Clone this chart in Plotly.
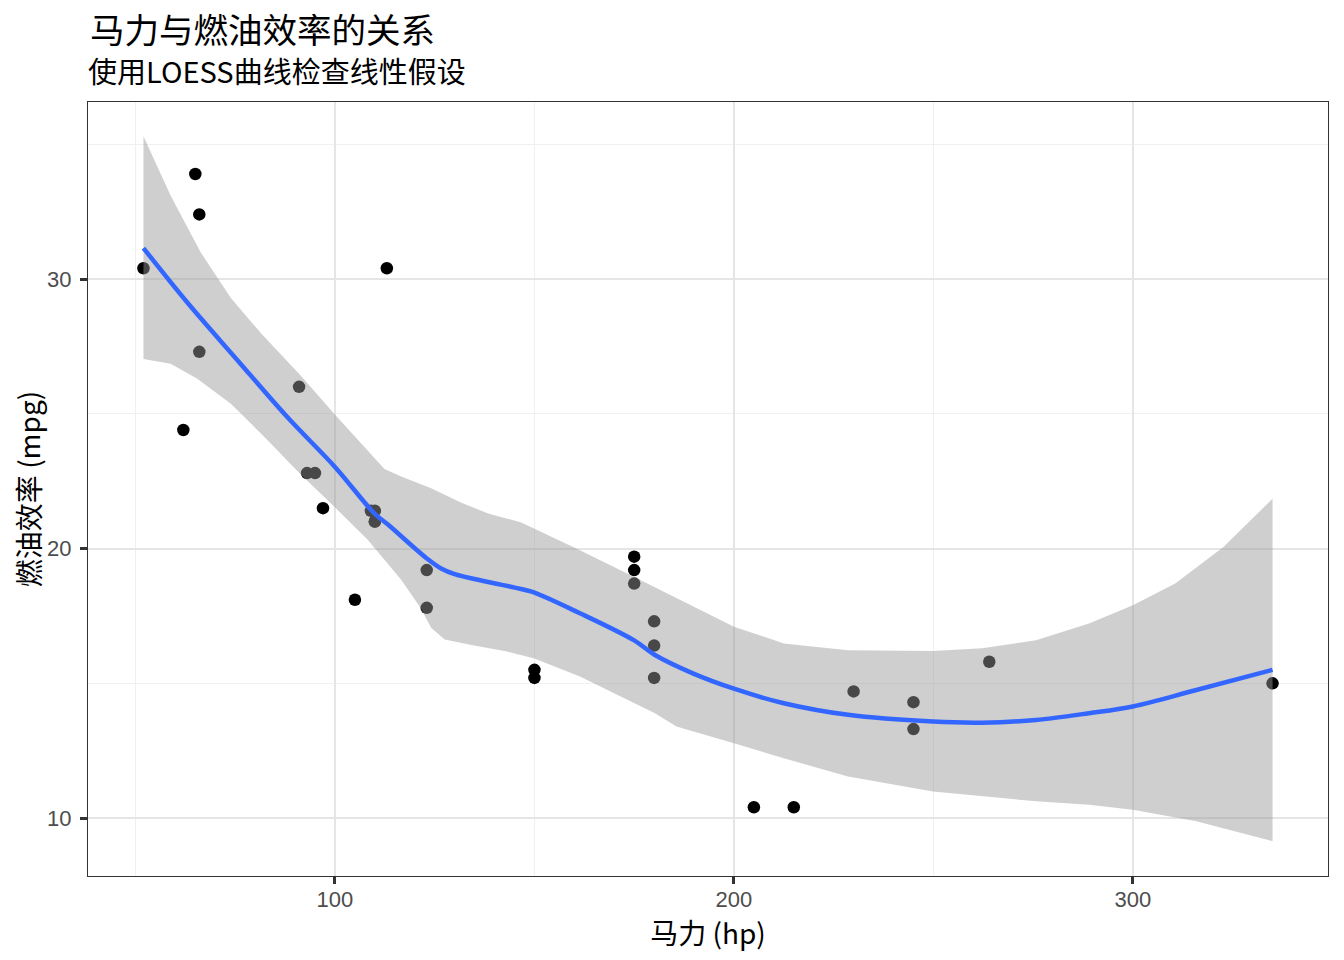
import plotly.graph_objects as go

# mtcars: horsepower and fuel economy
hp = [110, 110, 93, 110, 175, 105, 245, 62, 95, 123, 123, 180, 180, 180, 205, 215,
      230, 66, 52, 65, 97, 150, 150, 245, 175, 66, 91, 113, 264, 175, 335, 109]
mpg = [21.0, 21.0, 22.8, 21.4, 18.7, 18.1, 14.3, 24.4, 22.8, 19.2, 17.8, 16.4, 17.3, 15.2, 10.4, 10.4,
       14.7, 32.4, 30.4, 33.9, 21.5, 15.5, 15.2, 13.3, 19.2, 27.3, 26.0, 30.4, 15.8, 19.7, 15.0, 21.4]

# loess fit
fit_x = [52, 63, 75.5, 88.1, 100, 109.9, 113.2, 123.3, 126.6, 130, 138.4, 145.1, 149.3,
         161.4, 174.9, 180.2, 189.7, 200, 212.5, 228.6, 249.9, 262.2, 275.7, 289, 300, 315.9, 335]
fit_y = [31.15, 29.13, 27.0, 24.87, 23.03, 21.3, 20.9, 19.6, 19.26, 19.05, 18.76, 18.55, 18.4,
         17.6, 16.6, 16.05, 15.37, 14.8, 14.26, 13.83, 13.58, 13.54, 13.64, 13.89, 14.14, 14.75, 15.5]

# confidence band
upper_x = [52, 58.8, 66.3, 73.9, 81.4, 91.5, 99.8, 112.4, 116.6, 124.1, 131.7, 138.4, 146.7,
           153.4, 161.4, 174.9, 188.3, 200, 212.5, 228.6, 249.9, 262.2, 275.7, 289, 300, 310.6, 322.7, 335]
upper_y = [35.3, 33.1, 31.0, 29.3, 28.0, 26.4, 25.0, 22.95, 22.67, 22.24, 21.7, 21.3, 20.97,
           20.5, 19.94, 18.95, 17.96, 17.1, 16.48, 16.23, 16.2, 16.3, 16.6, 17.22, 17.9, 18.7, 20.06, 21.85]
lower_x = [52, 58.8, 65.5, 73.9, 82.2, 91.5, 100, 108.2, 116.6, 121.6, 124.1, 127.5, 134.2, 142.5,
           150, 161.4, 180.2, 185.6, 200, 212.5, 228.6, 249.9, 262.2, 275.7, 289, 300, 315.9, 335]
lower_y = [27.03, 26.86, 26.3, 25.37, 24.16, 22.74, 21.53, 20.33, 18.84, 17.77, 17.06, 16.63, 16.42, 16.2,
           15.92, 15.25, 13.89, 13.4, 12.78, 12.22, 11.54, 10.99, 10.8, 10.62, 10.49, 10.31, 9.88, 9.14]

x_ticks = [100, 200, 300]
y_ticks = [10, 20, 30]

font_main = "Liberation Sans, Noto Sans CJK SC, sans-serif"
font_cjk = "Noto Sans CJK SC, Liberation Sans, sans-serif"

fig = go.Figure()
fig.add_trace(go.Scatter(
    x=hp, y=mpg, mode="markers",
    marker=dict(color="black", size=12.5, line_width=0),
    hoverinfo="x+y", showlegend=False))
fig.add_trace(go.Scatter(
    x=upper_x + lower_x[::-1], y=upper_y + lower_y[::-1],
    mode="lines", fill="toself", fillcolor="rgba(153,153,153,0.47)",
    line=dict(width=0), hoverinfo="skip", showlegend=False))
fig.add_trace(go.Scatter(
    x=fit_x, y=fit_y, mode="lines", line=dict(color="#3366FF", width=4.5, shape="spline"),
    showlegend=False))

axis_common = dict(
    showgrid=True, gridcolor="#E5E5E5", gridwidth=2,
    zeroline=False, showline=True, linecolor="#333333", linewidth=1, mirror=True,
    ticks="outside", ticklen=7, tickwidth=2.5, tickcolor="#333333",
    tickfont=dict(family=font_main, size=22, color="#4D4D4D"),
    minor=dict(showgrid=True, gridcolor="#F0F0F0", gridwidth=1, ticks=""),
)

fig.update_xaxes(axis_common, range=[38.1, 348.9], tickvals=x_ticks,
                 minor_tickvals=[50, 150, 250], ticklabelstandoff=-3,
                 title=dict(text="马力 (hp)", font=dict(family=font_cjk, size=28, color="black"), standoff=1))
fig.update_yaxes(axis_common, range=[7.85, 36.57], tickvals=y_ticks,
                 minor_tickvals=[15, 25, 35], ticklabelstandoff=4,
                 title=dict(text="燃油效率 (mpg)", font=dict(family=font_cjk, size=28, color="black"), standoff=5))

# the page body adds an 8px offset, so margins are shifted to match
fig.update_layout(
    width=1344, height=960,
    margin=dict(l=80, r=24, t=94, b=92),
    paper_bgcolor="white", plot_bgcolor="white",
    annotations=[
        dict(text="马力与燃油效率的关系", xref="paper", yref="paper", x=0, y=1.095,
             xanchor="left", yanchor="middle", showarrow=False,
             font=dict(family=font_cjk, size=34.5, color="black")),
        dict(text="使用LOESS曲线检查线性假设", xref="paper", yref="paper", x=-0.002, y=1.041,
             xanchor="left", yanchor="middle", showarrow=False,
             font=dict(family=font_cjk, size=29, color="black")),
    ],
)

fig.write_html("out.html")
